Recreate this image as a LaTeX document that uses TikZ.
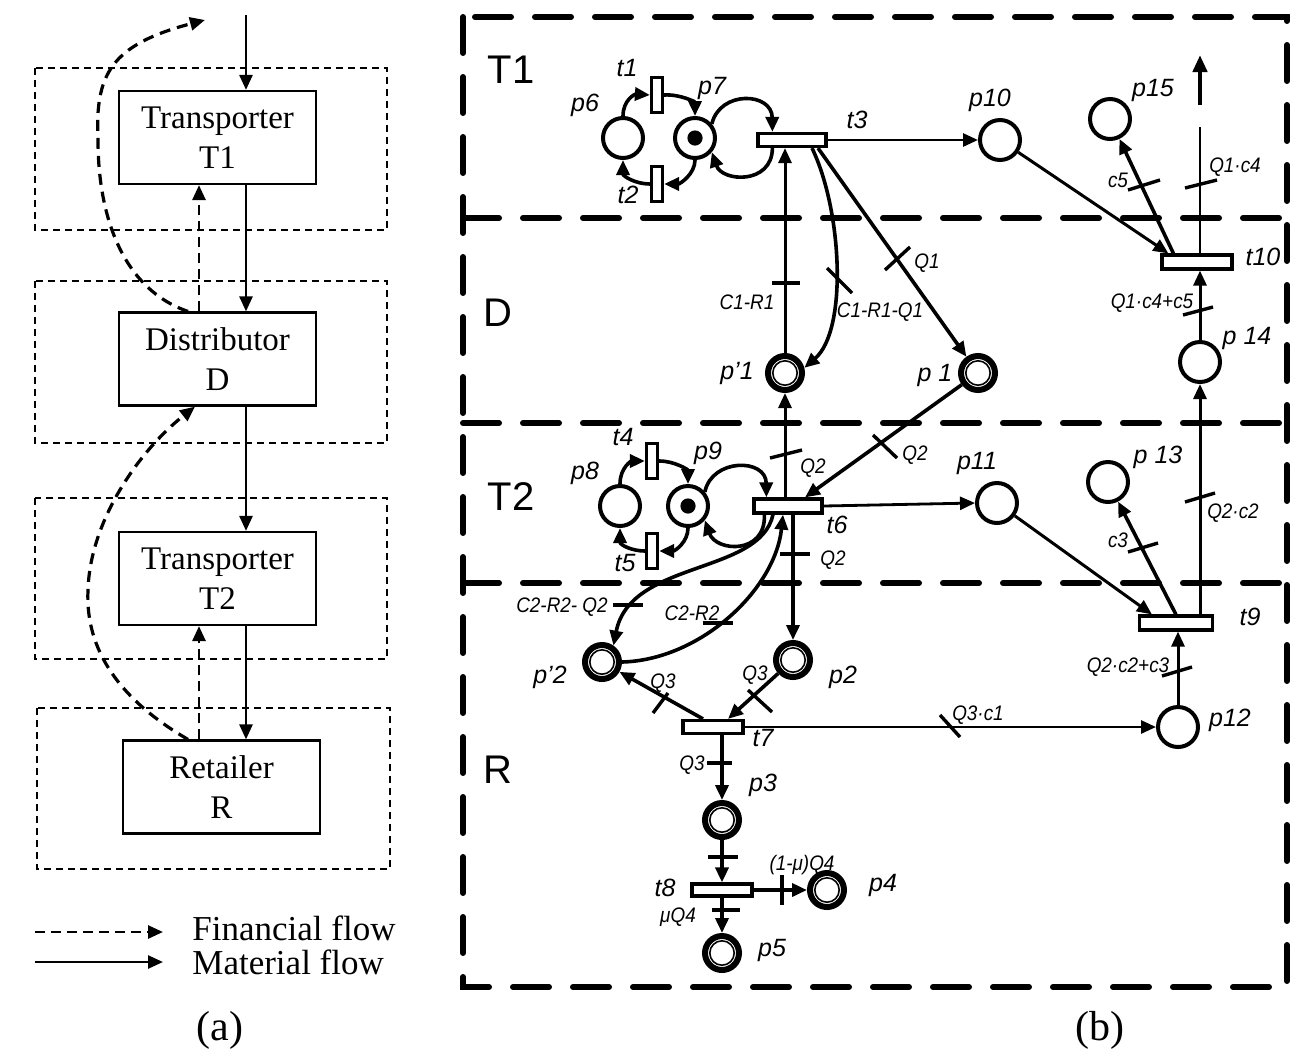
\documentclass[tikz,border=0pt]{standalone}
\usepackage{fontspec}
\setmainfont{Liberation Serif}
\newfontfamily\pnfont{Liberation Sans}
\newfontfamily\edgefont{Liberation Sans}[FakeStretch=0.9]
\usetikzlibrary{arrows.meta}
\begin{document}
\begin{tikzpicture}[x=0.5pt,y=-0.5pt,
  box/.style={draw,line width=1.1pt,minimum width=98.5pt,minimum height=46.5pt,inner sep=0pt,align=center,font=\fontsize{16.5}{20}\selectfont},
  zone/.style={draw,line width=1pt,dash pattern=on 3.5pt off 2.5pt},
  mat/.style={line width=1.3pt,-{Triangle[length=7.5pt,width=6.5pt]}},
  fin/.style={line width=1.4pt,dash pattern=on 5pt off 3pt,-{Triangle[length=7.5pt,width=6.5pt]}},
  place/.style={circle,draw,line width=2pt,minimum size=20pt,inner sep=0pt},
  mplace/.style={place,path picture={\fill (path picture bounding box.center) circle (3.8pt);}},
  dplace/.style={circle,draw,line width=3pt,minimum size=17pt,inner sep=0pt,path picture={\draw[line width=0.8pt] (path picture bounding box.center) circle (6.1pt);}},
  vtr/.style={draw,line width=1.6pt,fill=white,minimum width=5.5pt,minimum height=17.5pt,inner sep=0pt},
  htr/.style={draw,line width=1.6pt,fill=white,inner sep=0pt},
  arc/.style={line width=1.8pt,-{Triangle[length=7.5pt,width=6.5pt]}},
  tk/.style={line width=1.7pt},
  lab/.style={font=\pnfont\itshape\fontsize{12.5}{14}\selectfont,inner sep=0pt},
  elab/.style={font=\edgefont\itshape\fontsize{10.5}{12}\selectfont,inner sep=0pt},
  region/.style={font=\pnfont\fontsize{20}{24}\selectfont,inner sep=0pt},
  bigdash/.style={line width=3pt,dash pattern=on 18pt off 12pt,line cap=round},
]
\useasboundingbox (0,0) rectangle (1312,1056);

% ---------------- panel (a) ----------------
\draw[zone] (35,68) rectangle (387,230);
\draw[zone] (35,281) rectangle (387,443);
\draw[zone] (35,498) rectangle (387,659);
\draw[zone] (37,708) rectangle (390,869);
\node[box] (T1) at (217.5,137.5) {Transporter\\T1};
\node[box] (D) at (217.5,359) {Distributor\\D};
\node[box] (T2) at (217.5,578.5) {Transporter\\T2};
\node[box] (R) at (221.5,787) {Retailer\\R};
\coordinate (top) at (246,15);
\coordinate (mx) at (246,0);
\coordinate (fx) at (199,0);
\coordinate (fs) at (188,0);
\coordinate (bx) at (195,0);
\coordinate (ftop) at (205,20);
\draw[mat] (top) -- (top |- T1.north);
\draw[mat] (T1.south -| mx) -- (D.north -| mx);
\draw[mat] (D.south -| mx) -- (T2.north -| mx);
\draw[mat] (T2.south -| mx) -- (R.north -| mx);
\draw[fin] (D.north -| fx) -- (T1.south -| fx);
\draw[fin] (R.north -| fx) -- (T2.south -| fx);
\draw[fin,dash pattern=on 5.5pt off 3.5pt,line width=1.6pt] (D.north -| fs) .. controls (125,290) and (98,220) .. (98,140) .. controls (95,75) and (110,45) .. (ftop);
\draw[fin,dash pattern=on 5.5pt off 3.5pt,line width=1.6pt] (R.north -| fs) .. controls (120,700) and (85,650) .. (88,590) .. controls (90,520) and (140,450) .. (D.south -| bx);
\coordinate (l1a) at (35,932); \coordinate (l1b) at (163,932);
\coordinate (l2a) at (35,962); \coordinate (l2b) at (163,962);
\draw[fin] (l1a) -- (l1b);
\draw[mat] (l2a) -- (l2b);
\node[anchor=west,inner sep=0pt,font=\fontsize{17.5}{20}\selectfont] (lf) at (192,928) {Financial flow};
\node[anchor=west,inner sep=0pt,font=\fontsize{17.5}{20}\selectfont] (lm) at (192,962) {Material flow};
\node[font=\fontsize{21}{24}\selectfont] (capa) at (220,1030) {(a)};
\node[font=\fontsize{21}{24}\selectfont] (capb) at (1100,1030) {(b)};

% ---------------- panel (b) frame ----------------
\draw[bigdash] (463,17) rectangle (1287,987);
\draw[bigdash] (463,218) -- (1287,218);
\draw[bigdash] (463,423) -- (1287,423);
\draw[bigdash] (463,583) -- (1287,583);
\node[region] (rT1) at (511,70) {T1};
\node[region] (rD) at (498,313) {D};
\node[region] (rT2) at (511,497) {T2};
\node[region] (rR) at (498,770) {R};

% ---------------- places and transitions ----------------
\node[place] (p6) at (623,138) {};
\node[mplace] (p7) at (695,138) {};
\node[vtr] (t1) at (657,95) {};
\node[vtr] (t2) at (657,184) {};
\node[htr,minimum width=34pt,minimum height=6.5pt] (t3) at (792,140) {};
\node[place] (p10) at (1000,140) {};
\node[place] (p15) at (1110,119) {};
\node[htr,minimum width=35pt,minimum height=7pt] (t10) at (1197,262) {};
\node[place] (p14) at (1200,362) {};
\node[dplace] (pp1) at (785,373) {};
\node[dplace] (p1) at (978,373) {};
\node[place] (p8) at (620,506) {};
\node[mplace] (p9) at (688,506) {};
\node[vtr] (t4) at (652,461) {};
\node[vtr] (t5) at (652,551) {};
\node[htr,minimum width=34pt,minimum height=7pt] (t6) at (788,506) {};
\node[place] (p11) at (997,503) {};
\node[place] (p13) at (1108,482) {};
\node[htr,minimum width=36.5pt,minimum height=7pt] (t9) at (1176,623) {};
\node[place] (p12) at (1178,727) {};
\node[dplace] (pp2) at (602,662) {};
\node[dplace] (p2) at (793,660) {};
\node[htr,minimum width=30pt,minimum height=6.5pt] (t7) at (713,727) {};
\node[dplace] (p3) at (722,820) {};
\node[htr,minimum width=30pt,minimum height=6pt] (t8) at (722,890) {};
\node[dplace] (p4) at (827,890) {};
\node[dplace] (p5) at (722,953) {};

% ---------------- arcs T1 ----------------
\draw[arc] (p6.north) .. controls (623,100) and (635,94) .. (t1.west);
\draw[arc] (t1.east) .. controls (680,94) and (695,102) .. (p7.north);
\draw[arc] (p7.south) .. controls (695,174) and (680,184) .. (t2.east);
\draw[arc] (t2.west) .. controls (635,184) and (623,176) .. (p6.south);
\draw[arc] (p7.40) .. controls (720,90) and (772,92) .. ([xshift=8pt]t3.north west);
\draw[arc] ([xshift=8pt]t3.south west) .. controls (772,185) and (722,182) .. (p7.-40);
\draw[arc,line width=1.4pt] (t3.east) -- (p10.west);
\draw[arc,line width=1.5pt] (pp1.north) -- (pp1 |- t3.south);
\draw[arc] ([xshift=10pt]t3.south) .. controls (842,210) and (848,330) .. (pp1.15);
\draw[arc] ([xshift=13pt]t3.south) -- (p1);
% ---------------- arcs T2 ----------------
\draw[arc] (p8.north) .. controls (620,467) and (632,461) .. (t4.west);
\draw[arc] (t4.east) .. controls (675,461) and (688,470) .. (p9.north);
\draw[arc] (p9.south) .. controls (688,542) and (675,551) .. (t5.east);
\draw[arc] (t5.west) .. controls (632,551) and (620,545) .. (p8.south);
\draw[arc] (p9.40) .. controls (712,458) and (766,458) .. ([xshift=7pt]t6.north west);
\draw[arc] ([xshift=6pt]t6.south west) .. controls (766,555) and (716,552) .. (p9.-40);
\draw[arc,line width=1.4pt] (t6.east) -- (p11.west);
\draw[arc,line width=1.5pt] (pp1 |- t6.north) -- (pp1.south);
\draw[arc] (p1) -- ([xshift=8.5pt]t6.north);
\draw[arc] (p2 |- t6.south) -- (p2.north);
\draw[arc] ([xshift=-7.5pt]t6.south) .. controls (760,575) and (630,560) .. (pp2.55);
\draw[arc] (pp2.east) .. controls (700,660) and (775,590) .. ([xshift=-2.5pt]t6.south);
% ---------------- arcs R ----------------
\draw[arc] ([xshift=-5pt]t7.north) -- (pp2);
\draw[arc] (p2) -- ([xshift=7.5pt]t7.north);
\draw[arc,line width=1.4pt] (t7.east) -- (p12.west);
\draw[arc] (p3 |- t7.south) -- (p3.north);
\draw[arc] (p3.south) -- (p3 |- t8.north);
\draw[arc] (t8.east) -- (p4.west);
\draw[arc] (p5 |- t8.south) -- (p5.north);
% ---------------- arcs right ----------------
\coordinate (up1) at (1200,127);
\coordinate (up2) at (1200,105);
\coordinate (up3) at (1200,55);
\draw[arc,line width=1.5pt] (p10) -- ([xshift=4pt]t10.north west);
\draw[arc] ([xshift=6.5pt]t10.north west) -- (p15);
\draw[tk,line width=1.4pt] (p14 |- t10.north) -- (up1);
\draw[line width=2.4pt,-{Triangle[length=8.5pt,width=7pt]}] (up2) -- (up3);
\draw[arc,line width=1.5pt] (p14.north) -- (p14 |- t10.south);
\draw[arc,line width=1.5pt] (p14 |- t9.north) -- (p14.south);
\draw[arc,line width=1.5pt] (p11) -- ([xshift=7pt]t9.north west);
\draw[arc] ([xshift=19pt]t9.north west) -- (p13);
\draw[arc,line width=1.5pt] (p12.north) -- (p12 |- t9.south);

% ---------------- ticks ----------------
\draw[tk] (772,283) -- (800,283);
\draw[tk] (827,268) -- (852,293);
\draw[tk] (885,270) -- (910,247);
\draw[tk] (873,435) -- (897,458);
\draw[tk] (770,458) -- (802,450);
\draw[tk] (780,554) -- (810,554);
\draw[tk] (613,605) -- (643,605);
\draw[tk] (703,623) -- (733,623);
\draw[tk] (653,713) -- (668,693);
\draw[tk] (748,690) -- (772,712);
\draw[tk] (940,715) -- (960,737);
\draw[tk] (707,763) -- (732,763);
\draw[tk] (708,857) -- (738,857);
\draw[tk] (782,875) -- (782,905);
\draw[tk] (712,910) -- (740,910);
\draw[tk] (1128,190) -- (1160,180);
\draw[tk] (1185,188) -- (1217,180);
\draw[tk] (1183,315) -- (1213,307);
\draw[tk] (1185,502) -- (1215,493);
\draw[tk] (1128,552) -- (1158,543);
\draw[tk] (1162,676) -- (1192,667);

% ---------------- node labels ----------------
\node[lab] (Lt1) at (627,68) {t1};
\node[lab] (Lp6) at (585,105) {p6};
\node[lab] (Lp7) at (712,88) {p7};
\node[lab] (Lt2) at (628,195) {t2};
\node[lab] (Lt3) at (857,120) {t3};
\node[lab] (Lp10) at (990,100) {p10};
\node[lab] (Lp15) at (1153,90) {p15};
\node[lab] (Lt10) at (1263,257) {t10};
\node[lab] (Lp14) at (1247,338) {p 14};
\node[lab] (Lpp1) at (737,373) {p’1};
\node[lab] (Lp1) at (935,375) {p 1};
\node[lab] (Lt4) at (623,437) {t4};
\node[lab] (Lp9) at (708,453) {p9};
\node[lab] (Lp8) at (585,473) {p8};
\node[lab] (Lt5) at (625,563) {t5};
\node[lab] (Lt6) at (837,525) {t6};
\node[lab] (Lp11) at (977,463) {p11};
\node[lab] (Lp13) at (1158,457) {p 13};
\node[lab] (Lt9) at (1250,617) {t9};
\node[lab] (Lpp2) at (550,677) {p’2};
\node[lab] (Lp2) at (843,677) {p2};
\node[lab] (Lt7) at (763,738) {t7};
\node[lab] (Lp12) at (1230,720) {p12};
\node[lab] (Lp3) at (763,785) {p3};
\node[lab] (Lt8) at (665,888) {t8};
\node[lab] (Lp4) at (883,885) {p4};
\node[lab] (Lp5) at (772,950) {p5};

% ---------------- arc labels ----------------
\node[elab] (e1) at (747,302) {C1-R1};
\node[elab] (e2) at (880,312) {C1-R1-Q1};
\node[elab] (e3) at (927,263) {Q1};
\node[elab] (e4) at (915,455) {Q2};
\node[elab] (e5) at (813,468) {Q2};
\node[elab] (e6) at (833,560) {Q2};
\node[elab] (e7) at (562,607) {C2-R2- Q2};
\node[elab] (e8) at (692,613) {C2-R2};
\node[elab] (e9) at (663,683) {Q3};
\node[elab] (e10) at (755,675) {Q3};
\node[elab] (e11) at (978,715) {Q3·c1};
\node[elab] (e12) at (692,765) {Q3};
\node[elab] (e13) at (802,865) {(1-μ)Q4};
\node[elab] (e14) at (678,917) {μQ4};
\node[elab] (e15) at (1118,180) {c5};
\node[elab] (e16) at (1235,167) {Q1·c4};
\node[elab] (e17) at (1152,303) {Q1·c4+c5};
\node[elab] (e18) at (1233,513) {Q2·c2};
\node[elab] (e19) at (1118,540) {c3};
\node[elab] (e20) at (1128,667) {Q2·c2+c3};
\end{tikzpicture}
\end{document}
